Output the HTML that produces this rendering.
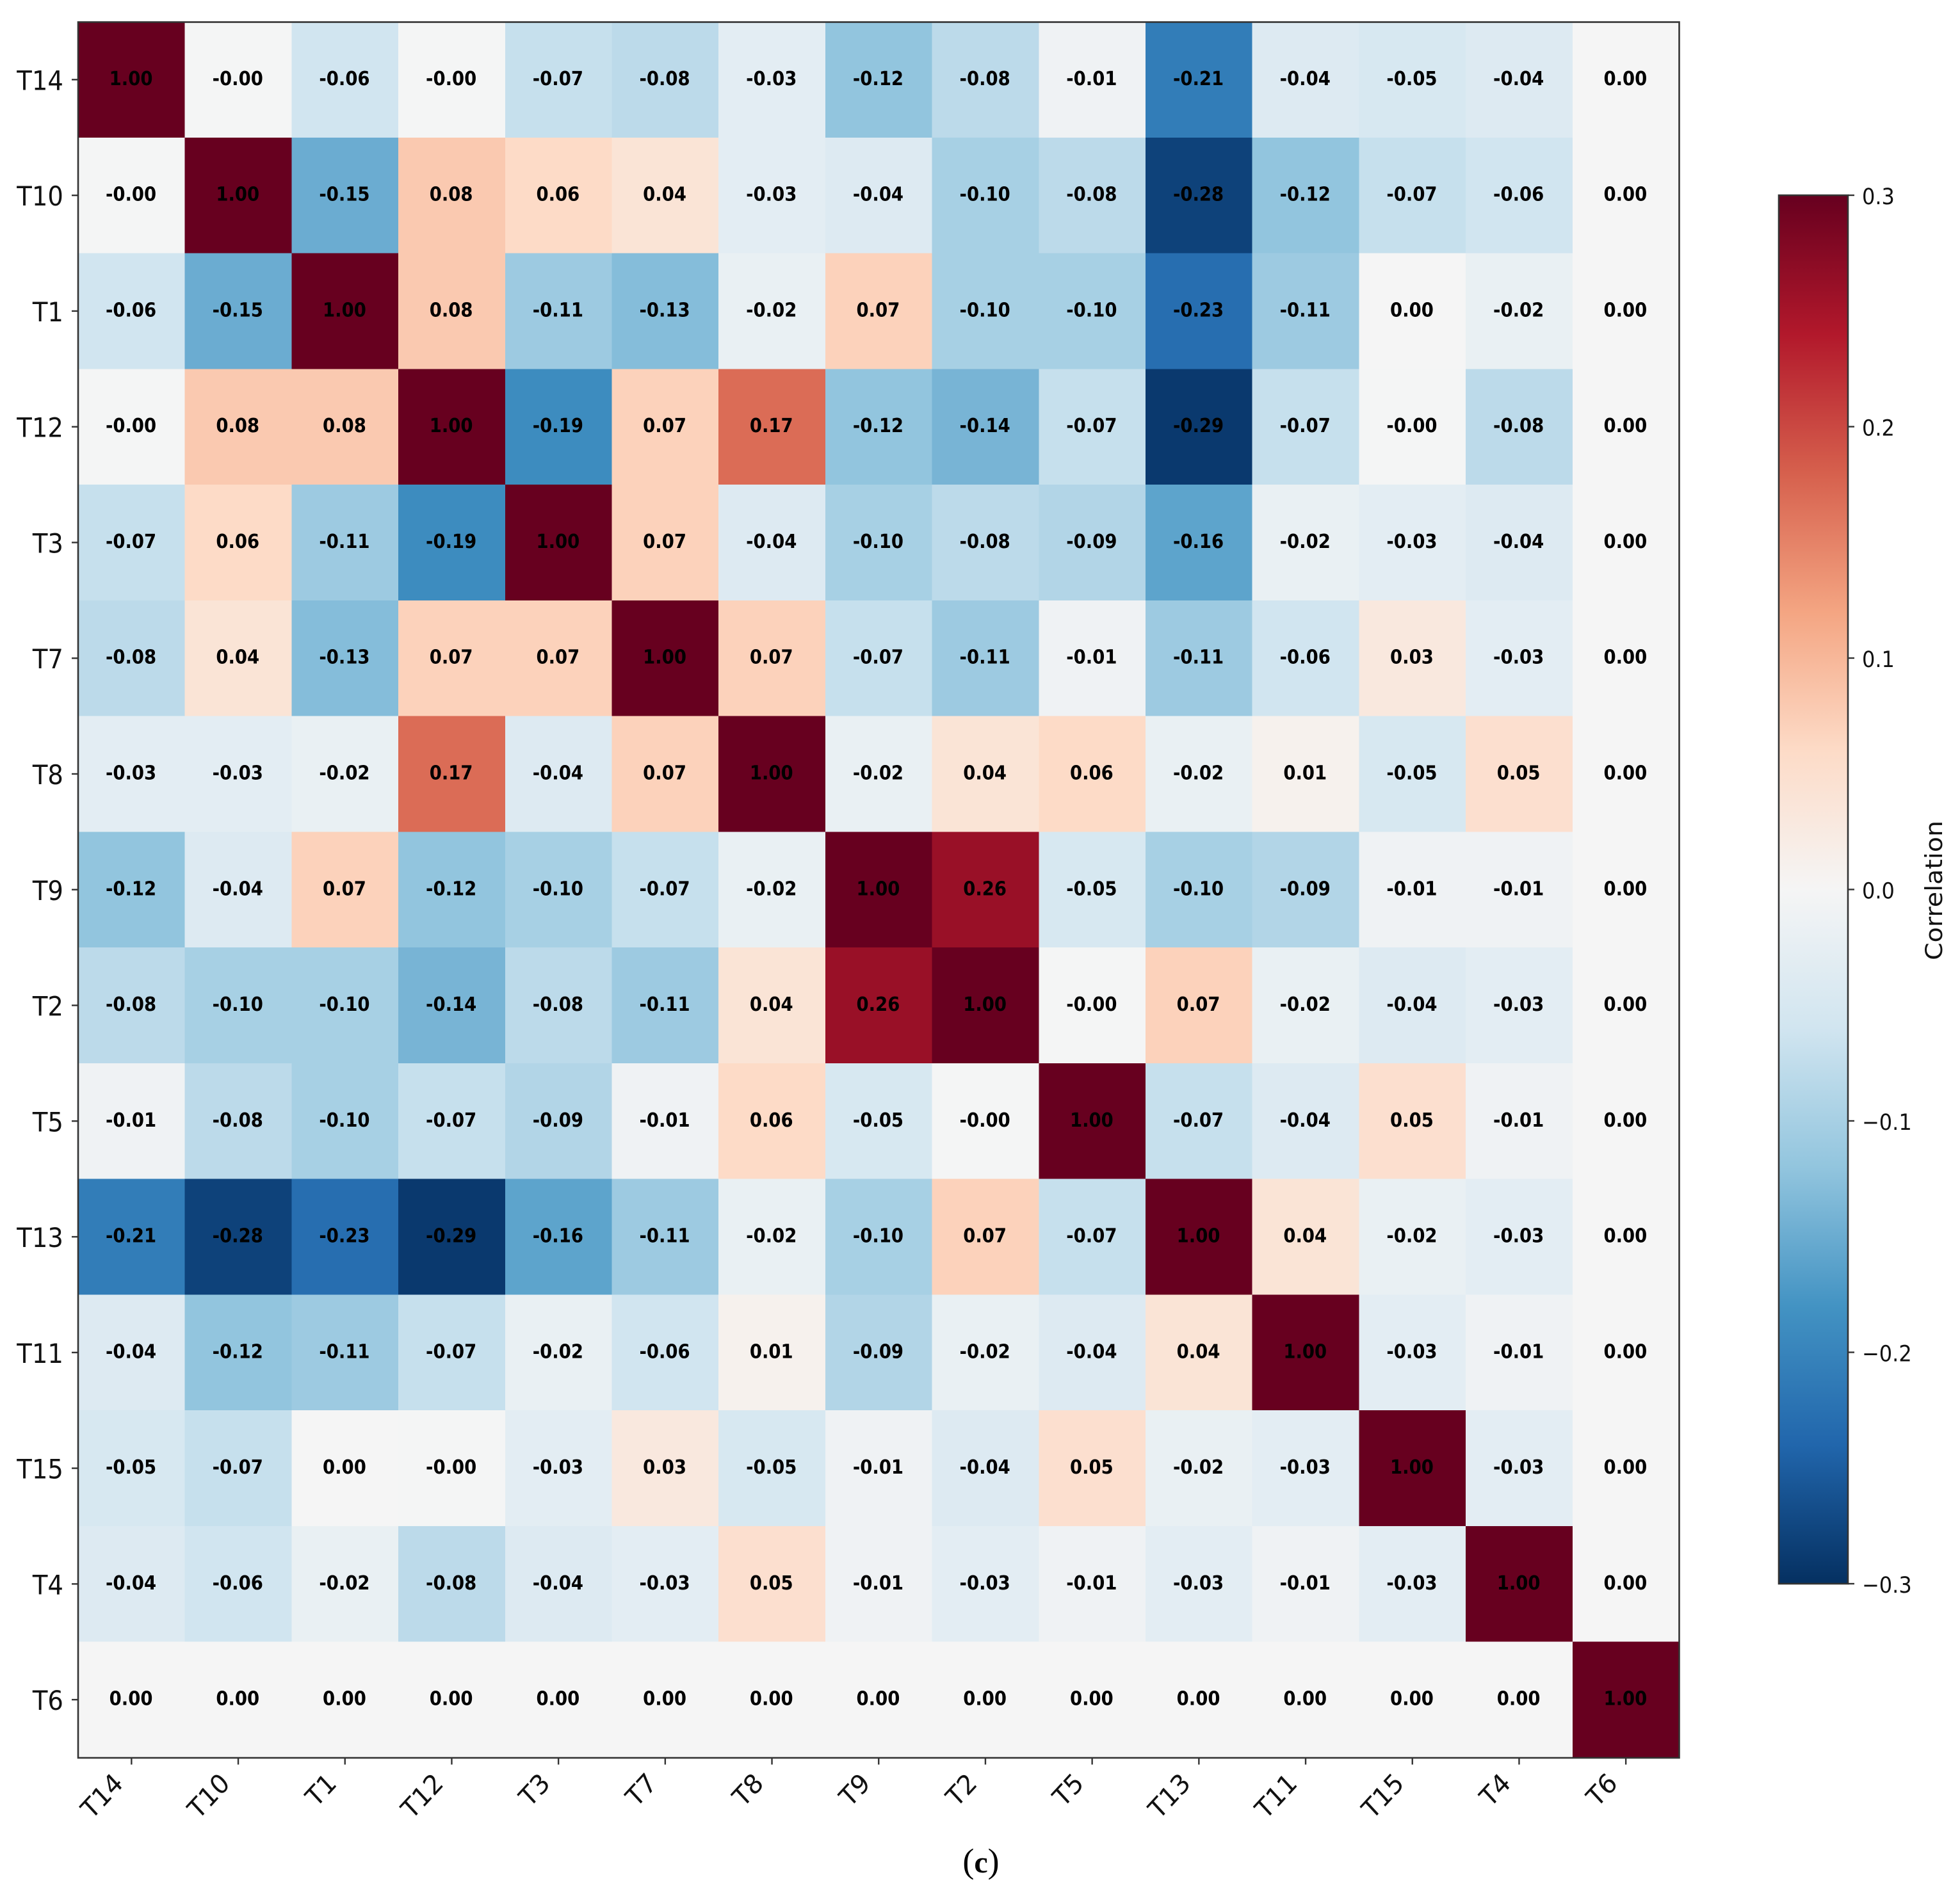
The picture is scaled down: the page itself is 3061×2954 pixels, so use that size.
<!DOCTYPE html>
<html lang="en">
<head>
<meta charset="utf-8">
<title>Correlation heatmap (c)</title>
<style>
html,body{margin:0;padding:0;background:#fff;}
svg{display:block;}
text{font-family:"DejaVu Sans","Liberation Sans",sans-serif;fill:#111;}
</style>
</head>
<body>
<svg id="chart" xmlns="http://www.w3.org/2000/svg" width="3061" height="2954" viewBox="0 0 3061 2954">
  <rect x="0" y="0" width="3061" height="2954" fill="#ffffff"/>
  <defs>
    <linearGradient id="cbar-gradient" x1="0" y1="1" x2="0" y2="0"></linearGradient>
  </defs>
  <g id="cells" shape-rendering="crispEdges"></g>
  <g id="cell-labels"></g>
  <g id="x-axis"></g>
  <g id="y-axis"></g>
  <rect x="122" y="34.5" width="2500.5" height="2711.5" fill="none" stroke="#333333" stroke-width="2.6"/>
  <g id="colorbar"></g>
  <text x="1532" y="2925" text-anchor="middle" style="font-family:'Liberation Serif',serif;font-size:54px;fill:#000">(<tspan style="font-weight:bold;font-size:48px">c</tspan>)</text>
</svg>
<script>
const categories = ["T14","T10","T1","T12","T3","T7","T8","T9","T2","T5","T13","T11","T15","T4","T6"];
// Negative zero cells are stored as -0.001 so they print as "-0.00", as in the picture.
const rowT14 = [1.00,-0.001,-0.06,-0.001,-0.07,-0.08,-0.03,-0.12,-0.08,-0.01,-0.21,-0.04,-0.05,-0.04,0.00];
const rowT10 = [-0.001,1.00,-0.15,0.08,0.06,0.04,-0.03,-0.04,-0.10,-0.08,-0.28,-0.12,-0.07,-0.06,0.00];
const rowT1  = [-0.06,-0.15,1.00,0.08,-0.11,-0.13,-0.02,0.07,-0.10,-0.10,-0.23,-0.11,0.00,-0.02,0.00];
const rowT12 = [-0.001,0.08,0.08,1.00,-0.19,0.07,0.17,-0.12,-0.14,-0.07,-0.29,-0.07,-0.001,-0.08,0.00];
const rowT3  = [-0.07,0.06,-0.11,-0.19,1.00,0.07,-0.04,-0.10,-0.08,-0.09,-0.16,-0.02,-0.03,-0.04,0.00];
const rowT7  = [-0.08,0.04,-0.13,0.07,0.07,1.00,0.07,-0.07,-0.11,-0.01,-0.11,-0.06,0.03,-0.03,0.00];
const rowT8  = [-0.03,-0.03,-0.02,0.17,-0.04,0.07,1.00,-0.02,0.04,0.06,-0.02,0.01,-0.05,0.05,0.00];
const rowT9  = [-0.12,-0.04,0.07,-0.12,-0.10,-0.07,-0.02,1.00,0.26,-0.05,-0.10,-0.09,-0.01,-0.01,0.00];
const rowT2  = [-0.08,-0.10,-0.10,-0.14,-0.08,-0.11,0.04,0.26,1.00,-0.001,0.07,-0.02,-0.04,-0.03,0.00];
const rowT5  = [-0.01,-0.08,-0.10,-0.07,-0.09,-0.01,0.06,-0.05,-0.001,1.00,-0.07,-0.04,0.05,-0.01,0.00];
const rowT13 = [-0.21,-0.28,-0.23,-0.29,-0.16,-0.11,-0.02,-0.10,0.07,-0.07,1.00,0.04,-0.02,-0.03,0.00];
const rowT11 = [-0.04,-0.12,-0.11,-0.07,-0.02,-0.06,0.01,-0.09,-0.02,-0.04,0.04,1.00,-0.03,-0.01,0.00];
const rowT15 = [-0.05,-0.07,0.00,-0.001,-0.03,0.03,-0.05,-0.01,-0.04,0.05,-0.02,-0.03,1.00,-0.03,0.00];
const rowT4  = [-0.04,-0.06,-0.02,-0.08,-0.04,-0.03,0.05,-0.01,-0.03,-0.01,-0.03,-0.01,-0.03,1.00,0.00];
const rowT6  = [0.00,0.00,0.00,0.00,0.00,0.00,0.00,0.00,0.00,0.00,0.00,0.00,0.00,0.00,1.00];
const rows = [rowT14,rowT10,rowT1,rowT12,rowT3,rowT7,rowT8,rowT9,rowT2,rowT5,rowT13,rowT11,rowT15,rowT4,rowT6];
const colorbarTicks = [-0.3,-0.2,-0.1,0.0,0.1,0.2,0.3];
const colorDomain = [-0.3,0.3];
const colormapStops = ["#053061","#2166ac","#4393c3","#92c5de","#d1e5f0","#f5f5f5","#fddbc7","#f4a582","#d6604d","#b2182b","#67001f"];

const SVG_NS = "http://www.w3.org/2000/svg";
const plot = {left:122, top:34, right:2622.5, bottom:2745.5};
const cbar = {left:2778, right:2886, top:305, bottom:2474};
const STRETCH = 1.084;

function xScale(i){ return plot.left + i * (plot.right - plot.left) / categories.length; }
function yScale(j){ return plot.top + j * (plot.bottom - plot.top) / categories.length; }
function cbarScale(v){
  return cbar.bottom - (v - colorDomain[0]) / (colorDomain[1] - colorDomain[0]) * (cbar.bottom - cbar.top);
}
function hexToRgb(h){ return [1,3,5].map(function(k){ return parseInt(h.substr(k,2),16); }); }
function colorScale(v){
  let t = (v - colorDomain[0]) / (colorDomain[1] - colorDomain[0]);
  t = Math.max(0, Math.min(1, t));
  const p = t * (colormapStops.length - 1);
  const k = Math.min(Math.floor(p), colormapStops.length - 2);
  const a = hexToRgb(colormapStops[k]);
  const b = hexToRgb(colormapStops[k + 1]);
  const f = p - k;
  return "rgb(" + a.map(function(c, n){ return Math.round(c + (b[n] - c) * f); }).join(",") + ")";
}
function make(tag, parent, attrs){
  const el = document.createElementNS(SVG_NS, tag);
  for (const key in attrs) el.setAttribute(key, attrs[key]);
  parent.appendChild(el);
  return el;
}

const cellsGroup = document.getElementById("cells");
const labelsGroup = document.getElementById("cell-labels");
const xAxisGroup = document.getElementById("x-axis");
const yAxisGroup = document.getElementById("y-axis");
const cbarGroup = document.getElementById("colorbar");

rows.forEach(function(row, j){
  row.forEach(function(value, i){
    const cell = make("rect", cellsGroup, {
      x: xScale(i), y: yScale(j),
      width: xScale(i + 1) - xScale(i), height: yScale(j + 1) - yScale(j),
      fill: colorScale(value)
    });
    
    

    const label = make("text", labelsGroup, {
      transform: "translate(" + (xScale(i + 0.5) - 0.8) + "," + (yScale(j + 0.5) + 8.5) + ") scale(1," + STRETCH + ")",
      "text-anchor": "middle",
      "font-size": "27.5",
      "font-weight": "bold",
      style: "fill:#000"
    });
    label.textContent = value.toFixed(2);
    
    
  });
});

categories.forEach(function(name, i){
  const xc = xScale(i + 0.5);
  const xTick = make("line", xAxisGroup, {x1: xc, x2: xc, y1: plot.bottom, y2: plot.bottom + 11, stroke: "#333", "stroke-width": 2.4});
  
  

  const xLabel = make("text", xAxisGroup, {
    transform: "translate(" + (xc - 11) + ",2788) scale(1," + STRETCH + ") rotate(-45)",
    "text-anchor": "end",
    "font-size": "38.6"
  });
  xLabel.textContent = name;
  
  

  const yc = yScale(i + 0.5);
  const yTick = make("line", yAxisGroup, {x1: plot.left - 10, x2: plot.left, y1: yc, y2: yc, stroke: "#333", "stroke-width": 2.4});
  
  

  const yLabel = make("text", yAxisGroup, {
    transform: "translate(99," + (yc + 16) + ") scale(1," + STRETCH + ")",
    "text-anchor": "end",
    "font-size": "38.6"
  });
  yLabel.textContent = name;
  
  
});

const gradient = document.getElementById("cbar-gradient");
colormapStops.forEach(function(color, k){
  make("stop", gradient, {offset: k / (colormapStops.length - 1), "stop-color": color});
});

const cbarBar = make("rect", cbarGroup, {
  x: cbar.left, y: cbar.top, width: cbar.right - cbar.left, height: cbar.bottom - cbar.top,
  fill: "url(#cbar-gradient)", stroke: "#333", "stroke-width": 2.6
});



colorbarTicks.forEach(function(v){
  const y = cbarScale(v);
  const tick = make("line", cbarGroup, {x1: cbar.right, x2: cbar.right + 10, y1: y, y2: y, stroke: "#333", "stroke-width": 2.4});
  
  

  const text = make("text", cbarGroup, {
    transform: "translate(2908," + (y + 14) + ") scale(1," + STRETCH + ")",
    "text-anchor": "start",
    "font-size": "32"
  });
  text.textContent = (v < 0 ? "\u2212" : "") + Math.abs(v).toFixed(1);
  
  
});

const cbarTitle = make("text", cbarGroup, {
  transform: "translate(3033,1391) scale(1," + STRETCH + ") rotate(-90)",
  "text-anchor": "middle",
  "font-size": "36.5"
});
cbarTitle.textContent = "Correlation";


</script>
</body>
</html>
